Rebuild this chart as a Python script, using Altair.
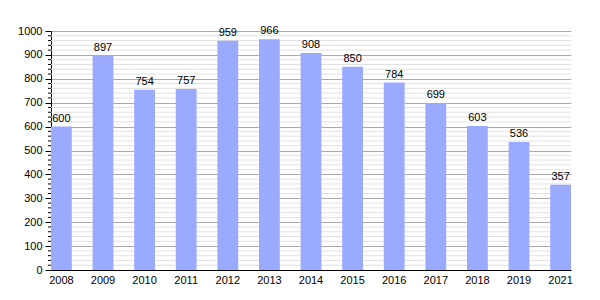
import altair as alt
import pandas as pd

years = ["2008", "2009", "2010", "2011", "2012", "2013", "2014", "2015", "2016", "2017", "2018", "2019", "2021"]
values = [600, 897, 754, 757, 959, 966, 908, 850, 784, 699, 603, 536, 357]

df = pd.DataFrame({"year": years, "value": values})
minor = pd.DataFrame({"v": [v for v in range(0, 1001, 20) if v % 100 != 0]})

FONT = "Liberation Sans"
W, H = 520, 239

yscale = alt.Scale(domain=[0, 1000], nice=False)
yaxis = alt.Axis(values=list(range(0, 1001, 100)), format="d", gridColor="#aaaaaa", domainColor="#000000",
                 tickColor="#000000", tickSize=6, labelColor="#000000", labelFont=FONT,
                 labelFontSize=11, labelPadding=3, title=None)

minor_grid = alt.Chart(minor).mark_rule(color="#e2e2e2", strokeWidth=1).encode(
    y=alt.Y("v:Q", scale=yscale, axis=yaxis, title=None),
    x=alt.value(0), x2=alt.value(W),
)
minor_ticks = alt.Chart(minor).mark_rule(color="#000000", strokeWidth=1).encode(
    y=alt.Y("v:Q", scale=yscale, axis=yaxis, title=None),
    x=alt.value(-3), x2=alt.value(0),
)

bars = alt.Chart(df).mark_bar(color="#99aaff").encode(
    x=alt.X("year:N", sort=years, title=None,
            scale=alt.Scale(paddingInner=0.5, paddingOuter=0),
            axis=alt.Axis(labelAngle=0, ticks=False, domainColor="#000000", labelColor="#000000",
                          labelFont=FONT, labelFontSize=11, labelPadding=4)),
    y=alt.Y("value:Q", scale=yscale, title=None, axis=yaxis),
)

labels = alt.Chart(df).mark_text(baseline="bottom", dy=-3, font=FONT, fontSize=11, color="#000000").encode(
    x=alt.X("year:N", sort=years),
    y=alt.Y("value:Q", scale=yscale, axis=yaxis),
    text="value:Q",
)

chart = alt.layer(minor_grid, bars, minor_ticks, labels).properties(
    width=W, height=H,
    autosize=alt.AutoSizeParams(type="none"),
    padding={"left": 51, "top": 31, "right": 29, "bottom": 30},
).configure_view(stroke=None).configure_axis(domainWidth=1)

chart.save("out.html", embed_options={"renderer": "svg", "actions": False})
